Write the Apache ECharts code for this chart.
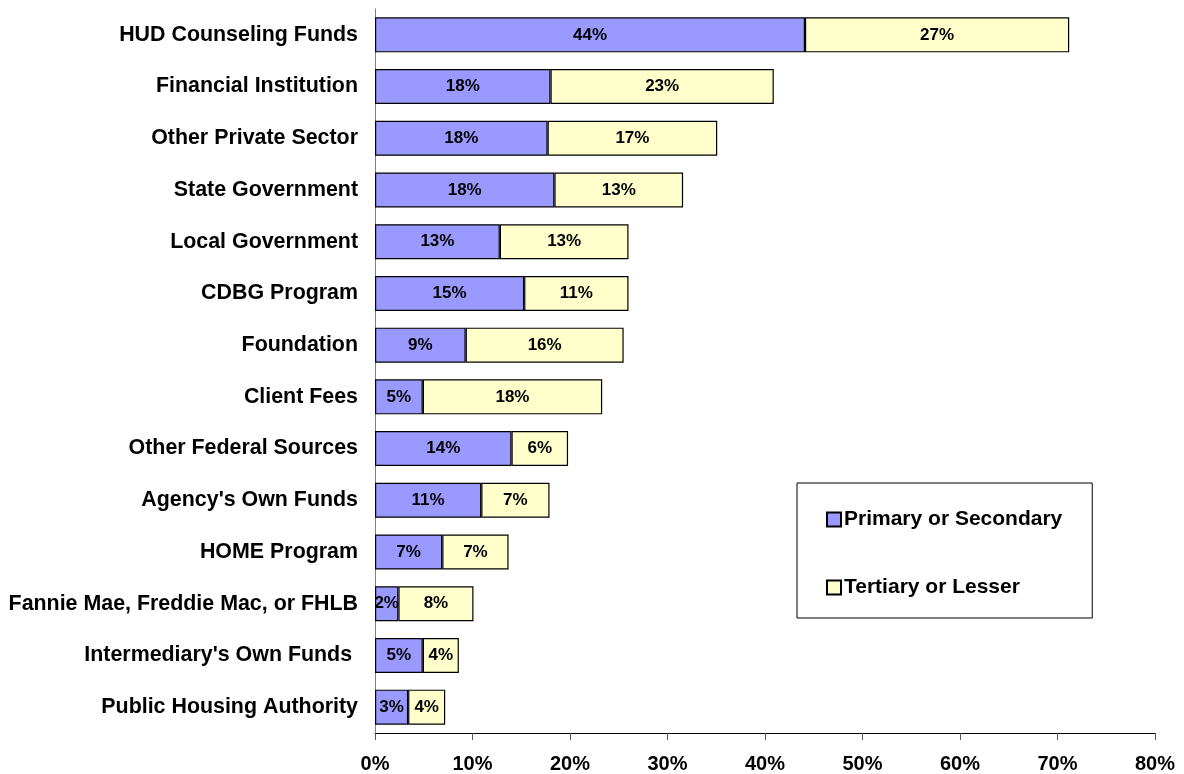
<!DOCTYPE html>
<html>
<head>
<meta charset="utf-8">
<script src="https://cdn.jsdelivr.net/npm/echarts@6/dist/echarts.min.js"></script>
<style>
  html, body { margin: 0; padding: 0; background: #fff; }
  #chart { width: 1184px; height: 774px; }
</style>
</head>
<body>
<div id="chart"></div>
<script>
// funding sources, top to bottom
var categories = [
  'HUD Counseling Funds', 'Financial Institution', 'Other Private Sector',
  'State Government', 'Local Government', 'CDBG Program', 'Foundation',
  'Client Fees', 'Other Federal Sources', "Agency's Own Funds", 'HOME Program',
  'Fannie Mae, Freddie Mac, or FHLB', "Intermediary's Own Funds ", 'Public Housing Authority'
];
// percent of agencies
var primaryValues  = [44.1, 18.0, 17.7, 18.4, 12.8, 15.3, 9.3, 4.9, 14.0, 10.9, 6.9, 2.4, 4.9, 3.4];
var tertiaryValues = [27.1, 22.9, 17.4, 13.2, 13.2, 10.7, 16.2, 18.4, 5.8, 7.0, 6.8, 7.7, 3.7, 3.8];
var xTicks = [0, 10, 20, 30, 40, 50, 60, 70, 80];

var font = 'Arial, "Liberation Sans", sans-serif';

var chart = echarts.init(document.getElementById('chart'));

var barLabel = {
  show: true,
  position: 'inside',
  color: '#000',
  fontFamily: font,
  fontWeight: 'bold',
  fontSize: 17,
  formatter: function (p) { return Math.round(p.value) + '%'; }
};

var option = {
  animation: false,
  grid: { left: 375, right: 29, top: 9, bottom: 41, containLabel: false },
  legend: {
    orient: 'vertical',
    left: 797,
    top: 483,
    padding: [26, 30, 20, 29],
    icon: 'rect',
    itemWidth: 14,
    itemHeight: 14,
    itemGap: 47,
    borderColor: '#000',
    borderWidth: 1,
    backgroundColor: '#fff',
    textStyle: {
      fontFamily: font, fontWeight: 'bold', fontSize: 21, lineHeight: 21,
      color: '#000', padding: [0, 0, 0, -2]
    },
    data: ['Primary or Secondary', 'Tertiary or Lesser']
  },
  xAxis: {
    type: 'value',
    min: xTicks[0],
    max: xTicks[xTicks.length - 1],
    interval: 10,
    axisLine: { show: true, lineStyle: { color: '#000', width: 1 } },
    axisTick: { show: true, length: 7, lineStyle: { color: '#555' } },
    splitLine: { show: false },
    axisLabel: {
      margin: 21,
      fontFamily: font, fontWeight: 'bold', fontSize: 20, color: '#000',
      formatter: '{value}%'
    }
  },
  yAxis: {
    type: 'category',
    inverse: true,
    data: categories,
    axisLine: { show: true, lineStyle: { color: '#808080', width: 1 } },
    axisTick: { show: false },
    axisLabel: {
      margin: 17,
      fontFamily: font, fontWeight: 'bold', fontSize: 21.4, color: '#000'
    }
  },
  series: [
    {
      name: 'Primary or Secondary',
      type: 'bar',
      stack: 'total',
      barWidth: 35,
      data: primaryValues,
      itemStyle: { color: '#9999FF', borderColor: '#000', borderWidth: 1.2 },
      label: barLabel
    },
    {
      name: 'Tertiary or Lesser',
      type: 'bar',
      stack: 'total',
      barWidth: 35,
      data: tertiaryValues,
      itemStyle: { color: '#FFFFCC', borderColor: '#000', borderWidth: 1.2 },
      label: barLabel
    }
  ]
};

chart.setOption(option);
</script>
</body>
</html>
